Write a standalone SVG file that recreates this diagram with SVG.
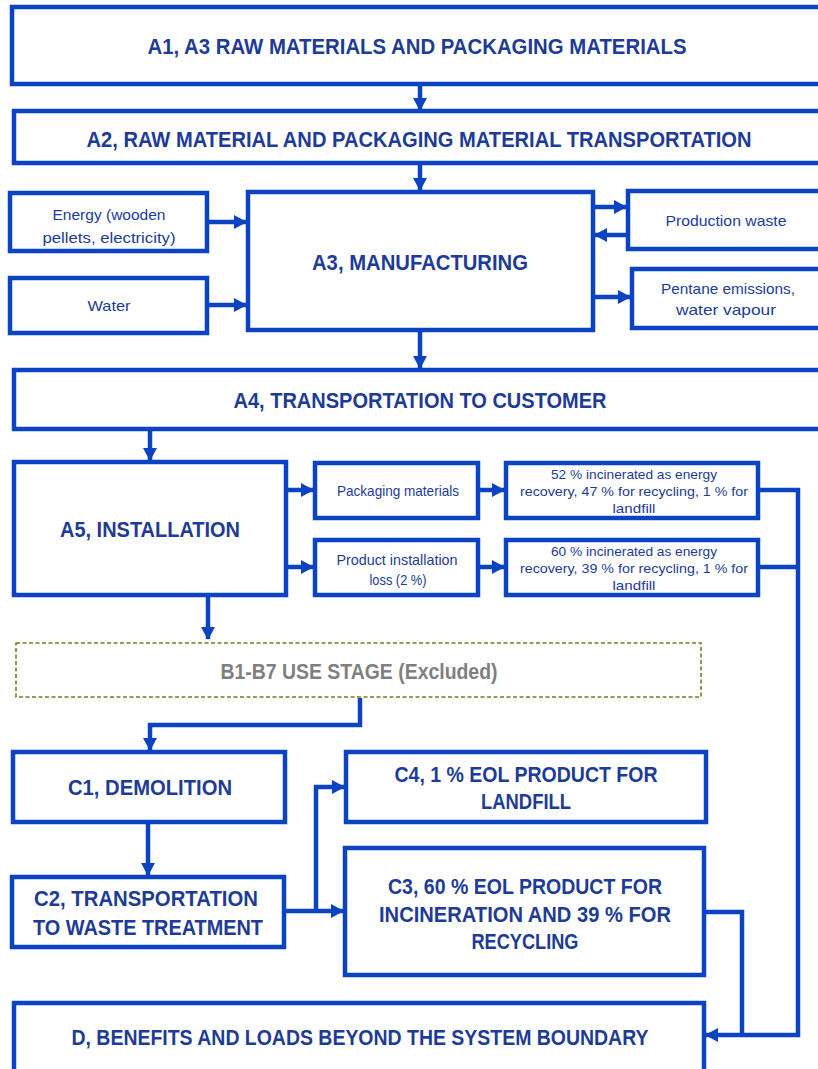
<svg xmlns="http://www.w3.org/2000/svg" width="818" height="1069" viewBox="0 0 818 1069">
<style>
.box{fill:#ffffff;stroke:#0b43c3;stroke-width:4.5}
.dash{fill:#ffffff;stroke:#7a7a22;stroke-width:1.6;stroke-dasharray:4 2.5}
.big{font-family:"Liberation Sans",Arial,sans-serif;font-weight:bold;font-size:22px;fill:#1d3b97;text-anchor:middle}
.grey{fill:#7f7f7f}
.sm{font-family:"Liberation Sans",Arial,sans-serif;font-size:15px;fill:#1d3b97;text-anchor:middle}
.xs{font-family:"Liberation Sans",Arial,sans-serif;font-size:13px;fill:#1d3b97;text-anchor:middle}
.con{fill:none;stroke:#0b43c3;stroke-width:4.5;stroke-linejoin:miter}
.arr{marker-end:url(#ah)}
</style>
<defs>
<marker id="ah" markerUnits="userSpaceOnUse" markerWidth="13" markerHeight="14" refX="12" refY="7" orient="auto">
<path d="M0,0 L13,7 L0,14 z" fill="#0b43c3"/>
</marker>
</defs>
<rect width="818" height="1069" fill="#ffffff"/>

<g id="connectors">
<path class="con arr" d="M420,86 V110"/>
<path class="con arr" d="M420,165 V190"/>
<path class="con arr" d="M209,222 H246"/>
<path class="con arr" d="M209,305 H246"/>
<path class="con arr" d="M595,207 H626"/>
<path class="con arr" d="M626,235 H595"/>
<path class="con arr" d="M595,297 H630"/>
<path class="con arr" d="M420,332 V368"/>
<path class="con arr" d="M150,431 V460"/>
<path class="con arr" d="M288,490 H313"/>
<path class="con arr" d="M288,567 H313"/>
<path class="con arr" d="M480,490 H504"/>
<path class="con arr" d="M480,567 H504"/>
<path class="con arr" d="M760,490 H798 V1035 H706"/>
<path class="con" d="M760,567 H798"/>
<path class="con arr" d="M208,597 V639"/>
<path class="con arr" d="M360,698 V725 H150 V750"/>
<path class="con arr" d="M148,824 V875"/>
<path class="con arr" d="M286,911 H343"/>
<path class="con arr" d="M316,911 V787 H344"/>
<path class="con" d="M706,912 H742 V1035"/>
</g>

<g id="n-a1"><rect class="box" x="12" y="7" width="830" height="77"/><text class="big" x="417" y="54" textLength="539" lengthAdjust="spacingAndGlyphs">A1, A3 RAW MATERIALS AND PACKAGING MATERIALS</text></g>
<g id="n-a2"><rect class="box" x="14" y="111" width="830" height="52"/><text class="big" x="419" y="147" textLength="665" lengthAdjust="spacingAndGlyphs">A2, RAW MATERIAL AND PACKAGING MATERIAL TRANSPORTATION</text></g>
<g id="n-a3"><rect class="box" x="248" y="192" width="345" height="138"/><text class="big" x="420" y="270" textLength="216" lengthAdjust="spacingAndGlyphs">A3, MANUFACTURING</text></g>
<g id="n-energy"><rect class="box" x="10" y="193" width="197" height="58"/><text class="sm" x="109" y="220" textLength="113" lengthAdjust="spacingAndGlyphs">Energy (wooden</text><text class="sm" x="109" y="243" textLength="133" lengthAdjust="spacingAndGlyphs">pellets, electricity)</text></g>
<g id="n-water"><rect class="box" x="10" y="278" width="197" height="55"/><text class="sm" x="109" y="311" textLength="43" lengthAdjust="spacingAndGlyphs">Water</text></g>
<g id="n-waste"><rect class="box" x="628" y="191" width="210" height="58"/><text class="sm" x="726" y="226" textLength="121" lengthAdjust="spacingAndGlyphs">Production waste</text></g>
<g id="n-pentane"><rect class="box" x="632" y="269" width="210" height="59"/><text class="sm" x="728" y="294" textLength="134" lengthAdjust="spacingAndGlyphs">Pentane emissions,</text><text class="sm" x="726" y="315" textLength="100" lengthAdjust="spacingAndGlyphs">water vapour</text></g>
<g id="n-a4"><rect class="box" x="14" y="370" width="830" height="59"/><text class="big" x="420" y="408" textLength="373" lengthAdjust="spacingAndGlyphs">A4, TRANSPORTATION TO CUSTOMER</text></g>
<g id="n-a5"><rect class="box" x="14" y="462" width="272" height="133"/><text class="big" x="150" y="537" textLength="180" lengthAdjust="spacingAndGlyphs">A5, INSTALLATION</text></g>
<g id="n-pack"><rect class="box" x="315" y="463" width="163" height="55"/><text class="sm" x="398" y="496" textLength="122" lengthAdjust="spacingAndGlyphs">Packaging materials</text></g>
<g id="n-loss"><rect class="box" x="315" y="540" width="163" height="55"/><text class="sm" x="397" y="565" textLength="121" lengthAdjust="spacingAndGlyphs">Product installation</text><text class="sm" x="398" y="585" textLength="57" lengthAdjust="spacingAndGlyphs">loss (2 %)</text></g>
<g id="n-r1"><rect class="box" x="506" y="463" width="252" height="55"/><text class="xs" x="634" y="479" textLength="166" lengthAdjust="spacingAndGlyphs">52 % incinerated as energy</text><text class="xs" x="634" y="496" textLength="228" lengthAdjust="spacingAndGlyphs">recovery, 47 % for recycling, 1 % for</text><text class="xs" x="634" y="513" textLength="43" lengthAdjust="spacingAndGlyphs">landfill</text></g>
<g id="n-r2"><rect class="box" x="506" y="540" width="252" height="55"/><text class="xs" x="634" y="556" textLength="166" lengthAdjust="spacingAndGlyphs">60 % incinerated as energy</text><text class="xs" x="634" y="573" textLength="228" lengthAdjust="spacingAndGlyphs">recovery, 39 % for recycling, 1 % for</text><text class="xs" x="634" y="590" textLength="43" lengthAdjust="spacingAndGlyphs">landfill</text></g>
<g id="n-b"><rect class="dash" x="16" y="643" width="685" height="54"/><text class="big grey" x="359" y="679" textLength="277" lengthAdjust="spacingAndGlyphs">B1-B7 USE STAGE (Excluded)</text></g>
<g id="n-c1"><rect class="box" x="13" y="752" width="272" height="70"/><text class="big" x="150" y="795" textLength="164" lengthAdjust="spacingAndGlyphs">C1, DEMOLITION</text></g>
<g id="n-c4"><rect class="box" x="346" y="752" width="360" height="70"/><text class="big" x="526" y="782" textLength="263" lengthAdjust="spacingAndGlyphs">C4, 1 % EOL PRODUCT FOR</text><text class="big" x="526" y="809" textLength="90" lengthAdjust="spacingAndGlyphs">LANDFILL</text></g>
<g id="n-c2"><rect class="box" x="12" y="877" width="272" height="70"/><text class="big" x="146" y="906" textLength="224" lengthAdjust="spacingAndGlyphs">C2, TRANSPORTATION</text><text class="big" x="148" y="935" textLength="230" lengthAdjust="spacingAndGlyphs">TO WASTE TREATMENT</text></g>
<g id="n-c3"><rect class="box" x="345" y="848" width="359" height="127"/><text class="big" x="525" y="894" textLength="274" lengthAdjust="spacingAndGlyphs">C3, 60 % EOL PRODUCT FOR</text><text class="big" x="525" y="922" textLength="292" lengthAdjust="spacingAndGlyphs">INCINERATION AND 39 % FOR</text><text class="big" x="525" y="949" textLength="107" lengthAdjust="spacingAndGlyphs">RECYCLING</text></g>
<g id="n-d"><rect class="box" x="14" y="1003" width="690" height="80"/><text class="big" x="360" y="1045" textLength="577" lengthAdjust="spacingAndGlyphs">D, BENEFITS AND LOADS BEYOND THE SYSTEM BOUNDARY</text></g>
</svg>
